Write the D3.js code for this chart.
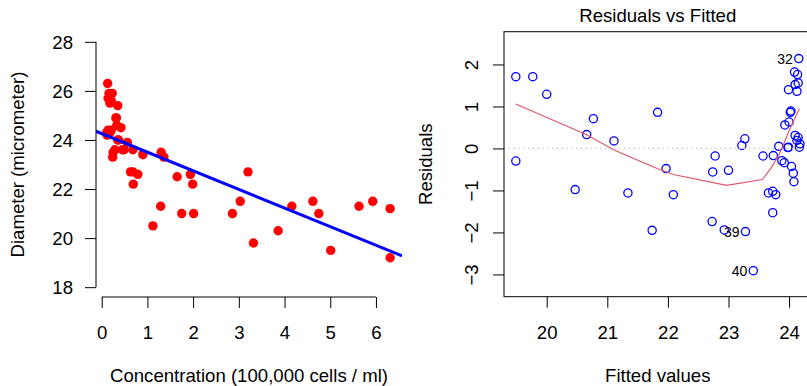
<!DOCTYPE html>
<html><head><meta charset="utf-8">
<script src="https://cdn.jsdelivr.net/npm/d3@7"></script>
<style>
body{margin:0;background:#fff}
svg{display:block}
text{font-family:"Liberation Sans",Arial,Helvetica,sans-serif;fill:#000}
</style>
</head><body>
<svg id="c" width="807" height="386"></svg>
<script>
// ---- data ----
const conc = [6.31,5.93,5.63,6.31,5.01,4.75,4.62,4.16,3.86,3.32,3.20,3.03,2.86,2.01,1.99,1.94,1.75,1.65,1.36,1.30,
  1.29,1.12,0.90,0.79,0.68,0.69,0.68,0.63,0.56,0.49,0.45,0.42,0.37,0.35,0.35,0.33,0.31,0.32,0.29,0.25,
  0.24,0.23,0.16,0.21,0.14,0.18,0.21,0.14,0.18,0.11,0.12,0.13];
const diameter = [21.2,21.5,21.3,19.2,19.5,21.0,21.5,21.3,20.3,19.8,22.7,21.5,21.0,21.0,22.2,22.6,21.0,22.5,23.3,23.5,
  21.3,20.5,23.4,22.6,22.7,22.2,23.6,22.7,23.9,23.6,23.6,24.5,24.0,24.0,25.4,24.6,24.9,24.9,23.6,23.5,
  23.3,25.9,25.9,25.6,25.7,25.5,24.4,24.4,24.3,24.3,24.2,26.3];
const fitted = [19.49,19.77,20.00,19.49,20.47,20.66,20.77,21.11,21.34,21.74,21.83,21.97,22.09,22.73,22.74,22.78,22.93,23.00,23.22,23.27,
  23.28,23.41,23.57,23.66,23.73,23.73,23.74,23.78,23.83,23.88,23.92,23.93,23.98,23.99,23.99,24.00,24.03,24.02,24.04,24.07,
  24.08,24.09,24.14,24.10,24.15,24.13,24.10,24.15,24.13,24.18,24.17,24.16];
const residuals = [1.71,1.71,1.29,-0.30,-0.98,0.33,0.71,0.18,-1.06,-1.95,0.86,-0.48,-1.10,-1.74,-0.56,-0.18,-1.94,-0.52,0.07,0.23,
  -1.98,-2.91,-0.18,-1.06,-1.02,-1.53,-0.17,-1.10,0.05,-0.29,-0.34,0.56,0.02,0.03,1.40,0.63,0.89,0.86,-0.43,-0.59,
  -0.79,1.82,1.76,1.52,1.56,1.36,0.31,0.26,0.19,0.11,0.03,2.14];
const fitIntercept = 24.26, fitSlope = -0.758;
const smoothX = [19.49,20.65,21.13,21.82,22.09,22.97,23.56,23.71,23.84,24.01,24.17];
const smoothY = [1.06,0.33,-0.05,-0.48,-0.62,-0.88,-0.74,-0.45,-0.13,0.45,0.95];
const idIndex = [51,20,21];
const idLabels = ["32","39","40"];
const leftXTicks = [0,1,2,3,4,5,6];
const leftYTicks = [18,20,22,24,26,28];
const rightXTicks = [20,21,22,23,24];
const rightYTicks = [-3,-2,-1,0,1,2];

const FS = 18.6;
const svg = d3.select("#c");
const fmt = d => d < 0 ? "\u2212" + Math.abs(d) : String(d);

// ---- left panel ----
const xL = d3.scaleLinear().domain([-0.125, 6.57]).range([96, 402]);
const yL = d3.scaleLinear().domain([17.6, 28.4]).range([297, 32]);

const left = svg.append("g");
left.append("defs").append("clipPath").attr("id","clipL").append("rect")
  .attr("x",96).attr("y",32).attr("width",306).attr("height",265);

left.append("g").selectAll("circle").data(conc).join("circle")
  .attr("cx",(d)=>xL(d)).attr("cy",(d,i)=>yL(diameter[i])).attr("r",4.7).attr("fill","#ff0000");

const d0 = xL.domain();
left.append("line").attr("clip-path","url(#clipL)")
  .attr("x1",xL(d0[0])).attr("y1",yL(fitIntercept+fitSlope*d0[0]))
  .attr("x2",xL(d0[1])).attr("y2",yL(fitIntercept+fitSlope*d0[1]))
  .attr("stroke","#0000ff").attr("stroke-width",3);

function styleAxis(g){
  g.select(".domain").remove();
  g.selectAll(".tick line").attr("stroke","#000").attr("stroke-width",1);
  g.selectAll("text").attr("font-size",FS).attr("fill","#000");
  g.attr("font-family",null);
}
const axL = left.append("g").attr("transform","translate(96,0)")
  .call(d3.axisLeft(yL).tickValues(leftYTicks).tickSize(11).tickPadding(12).tickFormat(fmt));
styleAxis(axL);
axL.append("line").attr("x1",0).attr("x2",0).attr("y1",yL(18)).attr("y2",yL(28)).attr("stroke","#000");
axL.selectAll("text").attr("dy","0.35em");

const axB = left.append("g").attr("transform","translate(0,297)")
  .call(d3.axisBottom(xL).tickValues(leftXTicks).tickSize(11).tickPadding(17.8).tickFormat(fmt));
styleAxis(axB);
axB.append("line").attr("y1",0).attr("y2",0).attr("x1",xL(0)).attr("x2",xL(6)).attr("stroke","#000");

left.append("text").attr("x",(xL.range()[0]+xL.range()[1])/2).attr("y",381.5)
  .attr("text-anchor","middle").attr("font-size",FS).text("Concentration (100,000 cells / ml)");
left.append("text").attr("transform",`translate(24,${(yL.range()[0]+yL.range()[1])/2}) rotate(-90)`)
  .attr("text-anchor","middle").attr("font-size",FS).text("Diameter (micrometer)");

// ---- right panel ----
const xR = d3.scaleLinear().domain([19.295, 24.37]).range([504, 811.5]);
const yR = d3.scaleLinear().domain([-3.53, 2.78]).range([296.7, 31.7]);
const right = svg.append("g");

right.append("g").selectAll("circle").data(fitted).join("circle")
  .attr("cx",d=>xR(d)).attr("cy",(d,i)=>yR(residuals[i])).attr("r",4.1)
  .attr("fill","none").attr("stroke","#0000ff").attr("stroke-width",1.3);

right.append("path").datum(smoothX.map((x,i)=>[x,smoothY[i]]))
  .attr("d",d3.line().x(d=>xR(d[0])).y(d=>yR(d[1])))
  .attr("fill","none").attr("stroke","#DF536B").attr("stroke-width",1.1);

right.append("line").attr("x1",xR.range()[0]).attr("x2",xR.range()[1]).attr("y1",yR(0)).attr("y2",yR(0))
  .attr("stroke","#bebebe").attr("stroke-width",1.2).attr("stroke-dasharray","1.2,3.6");

right.append("g").selectAll("text").data(idIndex).join("text")
  .attr("x",i=>xR(fitted[i])-6).attr("y",i=>yR(residuals[i])+5.5)
  .attr("text-anchor","end").attr("font-size",14).attr("fill","#111")
  .text((i,k)=>idLabels[k]);

right.append("rect").attr("x",504).attr("y",31.7).attr("width",307.5).attr("height",265)
  .attr("fill","none").attr("stroke","#000").attr("stroke-width",1);

const axRL = right.append("g").attr("transform","translate(504,0)")
  .call(d3.axisLeft(yR).tickValues(rightYTicks).tickSize(11).tickFormat(fmt));
styleAxis(axRL);
axRL.selectAll("text").attr("text-anchor","middle").attr("transform","rotate(-90)")
  .attr("x",0).attr("y",-26).attr("dy",null);

const axRB = right.append("g").attr("transform","translate(0,296.7)")
  .call(d3.axisBottom(xR).tickValues(rightXTicks).tickSize(11).tickPadding(17.8).tickFormat(fmt));
styleAxis(axRB);

const midR = (xR.range()[0]+xR.range()[1])/2;
right.append("text").attr("x",midR).attr("y",22).attr("text-anchor","middle").attr("font-size",FS).text("Residuals vs Fitted");
right.append("text").attr("x",midR).attr("y",381.5).attr("text-anchor","middle").attr("font-size",FS).text("Fitted values");
right.append("text").attr("transform",`translate(432,${(yR.range()[0]+yR.range()[1])/2}) rotate(-90)`)
  .attr("text-anchor","middle").attr("font-size",FS).text("Residuals");
</script>
</body></html>
